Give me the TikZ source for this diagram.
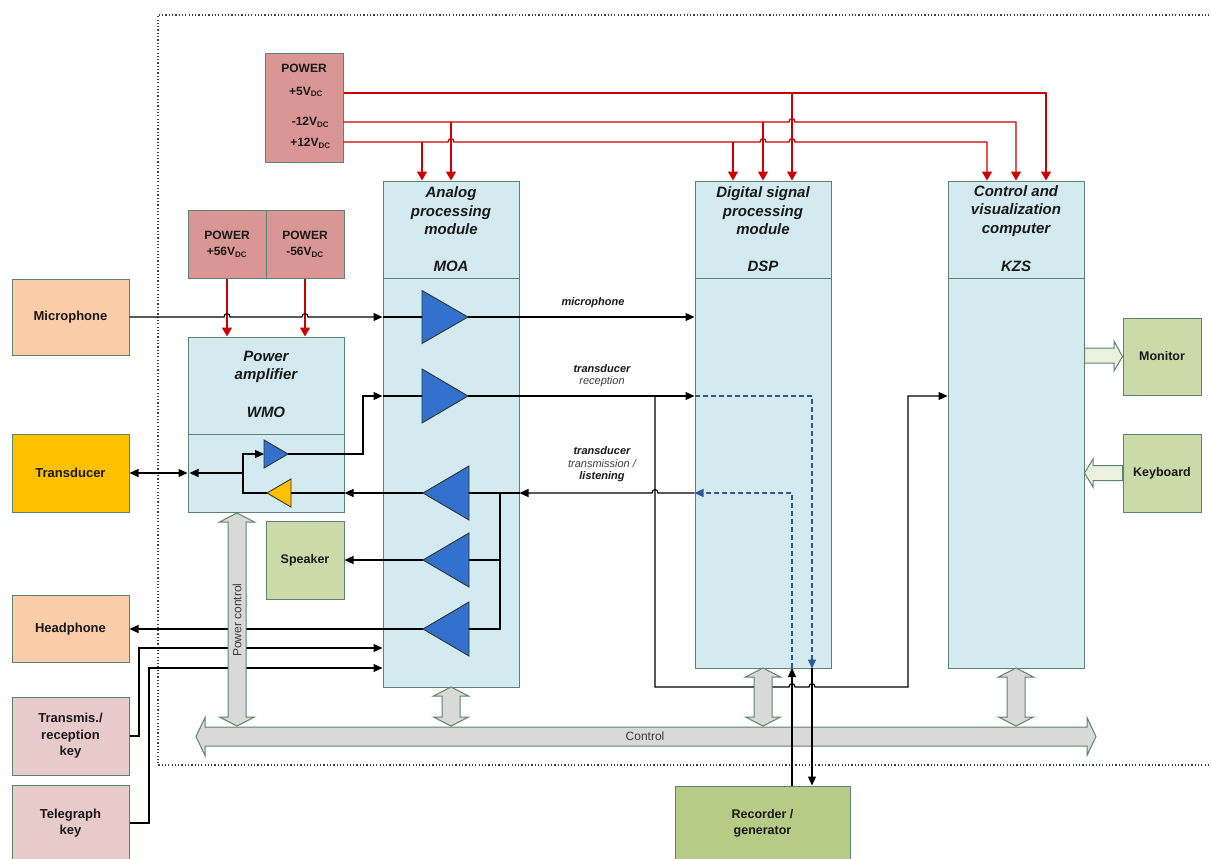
\documentclass[tikz,border=0pt]{standalone}
\usepackage{fontspec}
\setmainfont{Liberation Sans}
\usetikzlibrary{arrows.meta}
\definecolor{modfill}{RGB}{210,234,240}
\definecolor{bord}{RGB}{92,132,112}
\definecolor{peach}{RGB}{250,204,168}
\definecolor{amber}{RGB}{255,192,0}
\definecolor{pinkk}{RGB}{232,202,202}
\definecolor{pwrfill}{RGB}{217,150,148}
\definecolor{lgreen}{RGB}{204,218,170}
\definecolor{dgreen}{RGB}{182,203,134}
\definecolor{ampblue}{RGB}{50,113,205}
\definecolor{redline}{RGB}{204,0,0}
\definecolor{dashblue}{RGB}{47,85,151}
\definecolor{fatgray}{RGB}{217,217,217}
\definecolor{fatgreen}{RGB}{235,241,222}
\definecolor{txtgray}{RGB}{60,60,60}
\newcommand\linehop[2]{-- (#1-3,#2) .. controls (#1-3,#2-4.5) and (#1+3,#2-4.5) .. (#1+3,#2)}
\newcommand\linehopL[2]{-- (#1+3,#2) .. controls (#1+3,#2-4.5) and (#1-3,#2-4.5) .. (#1-3,#2)}
\newcommand\vdarrow[3]{\draw[fat] (#1,#2) -- (#1+17.5,#2+9) -- (#1+9,#2+9) -- (#1+9,#3-9) -- (#1+17.5,#3-9) -- (#1,#3) -- (#1-17.5,#3-9) -- (#1-9,#3-9) -- (#1-9,#2+9) -- (#1-17.5,#2+9) -- cycle;}
\begin{document}
\begin{tikzpicture}[x=1pt,y=-1pt,
  box/.style={draw=bord, line width=1pt, font=\bfseries\fontsize{13}{16.5}\selectfont, align=center, inner sep=0pt, text=black!90},
  module/.style={draw=bord, fill=modfill, line width=1pt, inner sep=0pt},
  title/.style={font=\bfseries\itshape\fontsize{15}{18.5}\selectfont, align=center, inner sep=0pt, text=black!90},
  siglab/.style={font=\bfseries\itshape\fontsize{11}{13}\selectfont, inner sep=0pt, text=black!90},
  sublab/.style={font=\itshape\fontsize{11}{13}\selectfont, inner sep=0pt, text=txtgray},
  ptext/.style={font=\bfseries\fontsize{12}{14}\selectfont, inner sep=0pt, text=black!90},
  sig/.style={draw=black, line width=1.1pt},
  arr/.style={-{Triangle[length=9pt,width=8pt]}},
  darr/.style={{Triangle[length=9pt,width=8pt]}-{Triangle[length=9pt,width=8pt]}},
  pw/.style={draw=redline, line width=1.3pt},
  parr/.style={-{Triangle[length=9pt,width=10pt]}},
  dsh/.style={draw=dashblue, line width=1.1pt, dash pattern=on 5pt off 3pt},
  amp/.style={draw=black!80, line width=0.9pt, fill=ampblue},
  fat/.style={draw=bord, line width=1pt, fill=fatgray},
  fatg/.style={draw=bord, line width=1pt, fill=fatgreen},
  frame/.style={draw=black!75, line width=1.2pt, dash pattern=on 1.2pt off 2.1pt}
]
\useasboundingbox (0,0) rectangle (1211,859);
\fill[white] (0,0) rectangle (1211,859);
% dotted frame
\draw[frame] (1216,15) -- (158,15) -- (158,765) -- (1216,765);

% boxes
\node[box, fill=pwrfill, minimum width=78, minimum height=108] (pwr) at (304,108) {};
\node[ptext] (pwrT) at (304,68) {POWER};
\node[ptext] (p5) at (306,92) {+5V\textsubscript{DC}};
\node[ptext] (pm12) at (310.5,122) {-12V\textsubscript{DC}};
\node[ptext] (pp12) at (310.5,143) {+12V\textsubscript{DC}};

\node[box, fill=pwrfill, minimum width=78, minimum height=68, font=\bfseries\fontsize{12}{16}\selectfont] (pw56p) at (227,244) {POWER\\+56V\textsubscript{DC}};
\node[box, fill=pwrfill, minimum width=78, minimum height=68, font=\bfseries\fontsize{12}{16}\selectfont] (pw56n) at (305,244) {POWER\\-56V\textsubscript{DC}};

\node[box, fill=peach, minimum width=117, minimum height=76] (mic) at (70.5,317) {Microphone};
\node[box, fill=amber, minimum width=117, minimum height=78] (trans) at (70.5,473) {Transducer};
\node[box, fill=peach, minimum width=117, minimum height=67] (head) at (70.5,629) {Headphone};
\node[box, fill=pinkk, minimum width=117, minimum height=78] (txkey) at (70.5,736) {Transmis./\\reception\\key};
\node[box, fill=pinkk, minimum width=117, minimum height=76] (tgkey) at (70.5,823) {Telegraph\\key};

\node[module, minimum width=156, minimum height=175] (wmo) at (266,424.5) {};
\draw[draw=bord, line width=1pt] (wmo.west |- 0,434) -- (wmo.east |- 0,434);
\node[title] (wmoT) at (266,367) {Power\\amplifier};
\node[title] (wmoL) at (266,412) {WMO};

\node[box, fill=lgreen, minimum width=78, minimum height=78, font=\bfseries\fontsize{12.5}{16}\selectfont] (spk) at (305,560.5) {Speaker};

\node[module, minimum width=136, minimum height=506] (moa) at (451,434) {};
\draw[draw=bord, line width=1pt] (moa.west |- 0,278) -- (moa.east |- 0,278);
\node[title] (moaT) at (451,211) {Analog\\processing\\module};
\node[title] (moaL) at (451,266) {MOA};

\node[module, minimum width=136, minimum height=487] (dsp) at (763,424.5) {};
\draw[draw=bord, line width=1pt] (dsp.west |- 0,278) -- (dsp.east |- 0,278);
\node[title] (dspT) at (763,211) {Digital signal\\processing\\module};
\node[title] (dspL) at (763,266) {DSP};

\node[module, minimum width=136, minimum height=487] (kzs) at (1016,424.5) {};
\draw[draw=bord, line width=1pt] (kzs.west |- 0,278) -- (kzs.east |- 0,278);
\node[title] (kzsT) at (1016,211) {Control and\\visualization\\computer};
\node[title] (kzsL) at (1016,266) {KZS};

\node[box, fill=lgreen, minimum width=78, minimum height=77, font=\bfseries\fontsize{12.5}{16}\selectfont] (mon) at (1162,356.5) {Monitor};
\node[box, fill=lgreen, minimum width=78, minimum height=78, font=\bfseries\fontsize{12.5}{16}\selectfont] (kbd) at (1162,473) {Keyboard};
\node[box, fill=dgreen, minimum width=175, minimum height=74, font=\bfseries\fontsize{12.5}{16}\selectfont] (rec) at (762.5,823) {Recorder /\\generator};

% amplifiers
\draw[amp] (422,290.5) -- (468,317) -- (422,343.5) -- cycle;
\draw[amp] (422,369) -- (468,396) -- (422,423) -- cycle;
\draw[amp] (469,466) -- (423,493) -- (469,520) -- cycle;
\draw[amp] (469,533) -- (423,560) -- (469,587) -- cycle;
\draw[amp] (469,602) -- (423,629) -- (469,656) -- cycle;
\draw[amp] (264,440) -- (288,454) -- (264,468) -- cycle;
\draw[amp, fill=amber] (291,479) -- (267,493) -- (291,507) -- cycle;

% power lines
\draw[pw, parr] (pwr.east |- 0,93) -- (1046,93) -- (kzs.north -| 1046,0);
\draw[pw, parr] (792,93) -- (dsp.north -| 792,0);
\draw[pw, parr] (pwr.east |- 0,122) \linehop{792}{122} -- (1016,122) -- (kzs.north -| 1016,0);
\draw[pw, parr] (451,122) -- (moa.north -| 451,0);
\draw[pw, parr] (763,122) -- (dsp.north -| 763,0);
\draw[pw, parr] (pwr.east |- 0,142) \linehop{451}{142} \linehop{763}{142} \linehop{792}{142} -- (987,142) -- (kzs.north -| 987,0);
\draw[pw, parr] (422,142) -- (moa.north -| 422,0);
\draw[pw, parr] (733,142) -- (dsp.north -| 733,0);
\draw[pw, parr] (pw56p.south) -- (wmo.north -| pw56p.south);
\draw[pw, parr] (pw56n.south) -- (wmo.north -| pw56n.south);

% microphone
\draw[sig, arr] (mic.east) \linehop{227}{317} \linehop{305}{317} -- (moa.west |- mic.east);
\draw[sig] (moa.west |- mic.east) -- (422,317);
\draw[sig, arr] (468,317) -- (dsp.west |- 0,317);
\node[siglab] (lmic) at (593,303) {microphone};

% reception
\draw[sig, arr] (288,454) -- (363,454) -- (363,396) -- (moa.west |- 0,396);
\draw[sig] (moa.west |- 0,396) -- (422,396);
\draw[sig, arr] (468,396) -- (dsp.west |- 0,396);
\draw[sig, arr] (655,396) -- (655,687) \linehop{792}{687} \linehop{812}{687} -- (908,687) -- (908,396) -- (kzs.west |- 0,396);
\node[siglab] (lrec1) at (602,369) {transducer};
\node[sublab] (lrec2) at (602,382) {reception};

% transmission
\draw[sig, arr] (dsp.west |- 0,493) \linehopL{655}{493} -- (moa.east |- 0,493);
\draw[sig] (moa.east |- 0,493) -- (469,493);
\draw[sig] (500,493) -- (500,629) -- (469,629);
\draw[sig] (500,560) -- (469,560);
\draw[sig, arr] (423,493) -- (wmo.east |- 0,493);
\draw[sig] (wmo.east |- 0,493) -- (291,493);
\draw[sig, arr] (267,493) -- (243,493) -- (243,454) -- (264,454);
\coordinate (wmoin) at (189.5,473);
\draw[sig, arr] (243,473) -- (wmoin);
\draw[sig, darr] (trans.east) -- (wmo.west |- trans.east);
\draw[sig, arr] (423,560) -- (spk.east |- 0,560);
\draw[sig, arr] (423,629) -- (head.east |- 0,629);
\node[siglab] (ltx1) at (602,451) {transducer};
\node[sublab] (ltx2) at (602,464) {transmission /};
\node[siglab] (ltx3) at (602,477) {listening};

% keys
\draw[sig, arr] (txkey.east) -- (139,736) -- (139,648) -- (moa.west |- 0,648);
\draw[sig, arr] (tgkey.east) -- (149,823) -- (149,668) -- (moa.west |- 0,668);

% DSP internal dashed
\draw[dsh, arr] (dsp.west |- 0,396) -- (812,396) -- (dsp.south -| 812,0);
\draw[dsh, arr] (792,668) -- (792,493) -- (dsp.west |- 0,493);

% fat arrows
\vdarrow{237}{513}{726}
\node[rotate=90, font=\fontsize{12}{14}\selectfont, text=txtgray, inner sep=0pt] (pctl) at (237,620) {Power control};
\draw[fat] (196,736.5) -- (205,717.5) -- (205,727) -- (1087,727) -- (1087,717.5) -- (1096,736.5) -- (1087,755.5) -- (1087,746) -- (205,746) -- (205,755.5) -- cycle;
\node[font=\fontsize{12}{14}\selectfont, text=txtgray, inner sep=0pt] (ctrl) at (645,736) {Control};
\vdarrow{451}{687}{726}
\vdarrow{763}{668}{726}
\vdarrow{1016}{668}{726}
\draw[fatg] (kzs.east |- 0,348) -- (1114,348) -- (1114,341) -- (mon.west) -- (1114,371) -- (1114,363) -- (kzs.east |- 0,363) -- cycle;
\draw[fatg] (kbd.west |- 0,465.5) -- (1093,465.5) -- (1093,459) -- (kzs.east |- 0,473) -- (1093,487) -- (1093,480.5) -- (kbd.west |- 0,480.5) -- cycle;

% recorder
\draw[sig, arr] (rec.north -| 792,0) -- (792,668);
\draw[sig, arr] (812,668) -- (rec.north -| 812,0);
\end{tikzpicture}
\end{document}
